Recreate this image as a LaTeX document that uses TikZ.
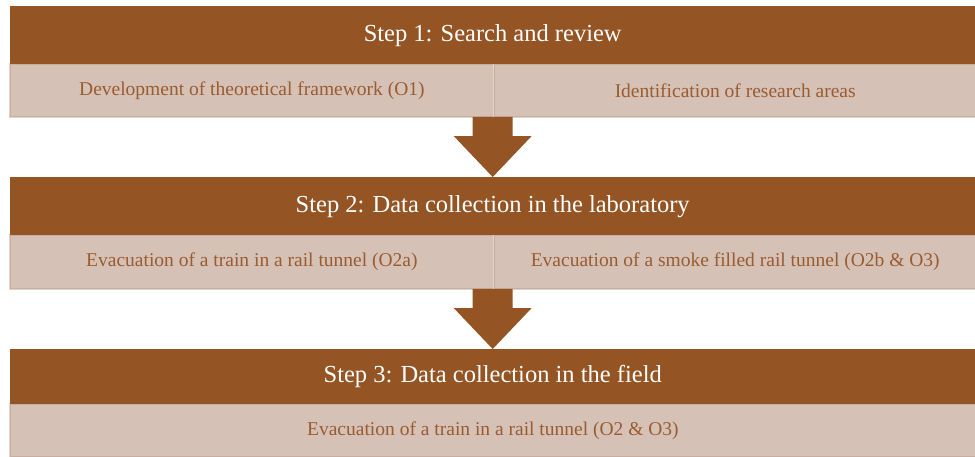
\documentclass[tikz,border=0pt]{standalone}
\usepackage{fontspec}
\setmainfont{Liberation Serif}
\usetikzlibrary{positioning, calc}
\definecolor{stepbrown}{HTML}{955424}
\definecolor{tasktext}{HTML}{9A5C30}
\definecolor{taskfill}{HTML}{D5C1B6}
\definecolor{taskrule}{HTML}{C8AEA1}
\definecolor{taskhalo}{HTML}{E3D5CD}
\tikzset{
  stephead/.style ={fill=stepbrown, text=white, anchor=north west,
                    minimum width=965pt, inner sep=0pt,
                    font=\fontsize{24.5}{28}\selectfont},
  task/.style     ={fill=taskfill, draw=taskrule, line width=0.8pt,
                    text=tasktext, inner sep=0pt, minimum height=52pt,
                    font=\fontsize{19.5}{23}\selectfont,
                    preaction={draw=taskhalo, line width=3pt}},
  flowarrow/.style={fill=stepbrown},
}
\begin{document}
\begin{tikzpicture}[x=1pt, y=-1pt]
\useasboundingbox (0,0) rectangle (975,456);

% Step 1
\node[task, anchor=north west, minimum width=483pt] (T1a) at (10,64)
  {Development of theoretical framework (O1)};
\node[task, anchor=north west, minimum width=482pt] (T1b) at (T1a.north east)
  {Identification of research areas};
\node[stephead, minimum height=58pt] (S1) at (10,6) {Step 1: Search and review};

% Step 2
\node[task, anchor=north west, minimum width=483pt, minimum height=53pt] (T2a) at (10,235)
  {Evacuation of a train in a rail tunnel (O2a)};
\node[task, anchor=north west, minimum width=482pt, minimum height=53pt] (T2b) at (T2a.north east)
  {Evacuation of a smoke filled rail tunnel (O2b \& O3)};
\node[stephead, minimum height=58pt] (S2) at (10,177) {Step 2: Data collection in the laboratory};

% Step 3
\node[task, anchor=north west, minimum width=965pt] (T3) at (10,404)
  {Evacuation of a train in a rail tunnel (O2 \& O3)};
\node[stephead, minimum height=55pt] (S3) at (10,349) {Step 3: Data collection in the field};

% block arrows between the steps
\foreach \a/\b in {T1a/S2, T2a/S3} {
  \coordinate (top) at (\b.north |- \a.south);
  \fill[flowarrow] ($(top)+(-20,0)$) -- ($(top)+(20,0)$)
    -- ($(\b.north)+(20,-41)$) -- ($(\b.north)+(39,-41)$) -- (\b.north)
    -- ($(\b.north)+(-39,-41)$) -- ($(\b.north)+(-20,-41)$) -- cycle;
}

\end{tikzpicture}
\end{document}
